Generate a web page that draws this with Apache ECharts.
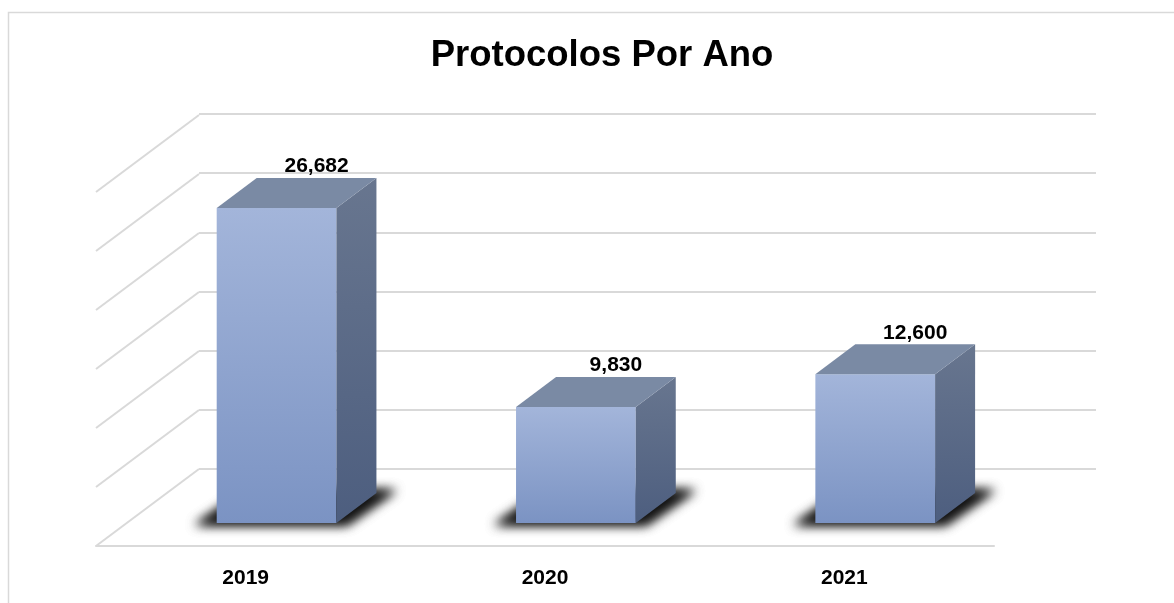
<!DOCTYPE html>
<html>
<head>
<meta charset="utf-8">
<script src="https://cdn.jsdelivr.net/npm/echarts@6/dist/echarts.min.js"></script>
<style>
  html, body { margin: 0; padding: 0; background: #fff; }
  #chart { width: 1174px; height: 603px; }
</style>
</head>
<body>
<div id="chart"></div>
<script>
const years = ['2019', '2020', '2021'];
const protocolos = [26682, 9830, 12600];
const yTicks = [0, 5000, 10000, 15000, 20000, 25000, 30000];

// floor depth (back wall offset) and bar depth, in px
const FLOOR_DX = 103, FLOOR_DY = -77;
const BAR_DX = 40, BAR_DY = -30;
const FONT = '"Liberation Sans", Arial, sans-serif';
const SHIFT = 3000; // shadow shape drawn off-canvas, only its blur is brought back

const chart = echarts.init(document.getElementById('chart'));

const renderWall = (params, api) => {
  const y = api.coord([0, api.value(1)])[1];
  const x0 = params.coordSys.x;
  return {
    type: 'line',
    shape: { x1: x0, y1: y, x2: x0 + FLOOR_DX, y2: y + FLOOR_DY },
    style: { stroke: '#d9d9d9', lineWidth: 2 },
    silent: true
  };
};

const shadow = (fx, fy0, bw) => ({
  type: 'polygon',
  shape: { points: [
    [fx - 22 - SHIFT, fy0 + 2], [fx + bw + 10 - SHIFT, fy0 + 2],
    [fx + bw + 60 - SHIFT, fy0 - 33], [fx + 30 - SHIFT, fy0 - 33]
  ] },
  style: {
    fill: '#000',
    shadowBlur: 11,
    shadowColor: 'rgba(0,0,0,0.75)',
    shadowOffsetX: SHIFT,
    shadowOffsetY: 0
  },
  silent: true
});

const renderBar = (params, api) => {
  const i = api.value(0);
  const v = api.value(1);
  const base = api.coord([i, 0]);
  const top = api.coord([i, v]);
  const bw = api.size([1, 0])[0] * 0.4;
  const ox = FLOOR_DX * 0.3, oy = FLOOR_DY * 0.3;
  const fx = base[0] + ox - bw / 2;
  const fy0 = base[1] + oy;
  const fy1 = top[1] + oy;
  return {
    type: 'group',
    children: [
      shadow(fx, fy0, bw),
      shadow(fx, fy0, bw),
      {
        type: 'rect',
        shape: { x: fx, y: fy1, width: bw, height: fy0 - fy1 },
        style: {
          fill: new echarts.graphic.LinearGradient(0, 0, 0, 1, [
            { offset: 0, color: '#a3b5da' },
            { offset: 1, color: '#7b93c3' }
          ])
        }
      },
      {
        type: 'polygon',
        shape: { points: [[fx + bw, fy1], [fx + bw + BAR_DX, fy1 + BAR_DY], [fx + bw + BAR_DX, fy0 + BAR_DY], [fx + bw, fy0]] },
        style: {
          fill: new echarts.graphic.LinearGradient(0, 0, 0, 1, [
            { offset: 0, color: '#68768f' },
            { offset: 1, color: '#4d5e7f' }
          ])
        }
      },
      {
        type: 'polygon',
        shape: { points: [[fx, fy1], [fx + BAR_DX, fy1 + BAR_DY], [fx + bw + BAR_DX, fy1 + BAR_DY], [fx + bw, fy1]] },
        style: { fill: '#7a8aa4' }
      },
      {
        type: 'text',
        x: fx + bw / 2 + BAR_DX,
        y: fy1 + BAR_DY - 1,
        style: {
          text: v.toLocaleString('en-US'),
          font: 'bold 21px ' + FONT,
          fill: '#000',
          align: 'center',
          verticalAlign: 'bottom'
        }
      }
    ]
  };
};

const option = {
  animation: false,
  backgroundColor: '#fff',
  title: {
    text: 'Protocolos Por Ano',
    left: 597,
    top: 32,
    textAlign: 'center',
    textStyle: { fontFamily: FONT, fontWeight: 'bold', fontSize: 36.5, color: '#000' }
  },
  graphic: [
    {
      type: 'rect',
      shape: { x: 8.5, y: 12.5, width: 1300, height: 800 },
      style: { fill: 'none', stroke: '#d9d9d9', lineWidth: 1.5 },
      silent: true
    }
  ],
  grid: [
    { left: 96, right: 180, top: 192, bottom: 57 },
    { left: 199, right: 78, top: 114, bottom: 134 }
  ],
  xAxis: [
    {
      gridIndex: 0,
      type: 'category',
      data: years,
      axisLine: { lineStyle: { color: '#d9d9d9', width: 2 } },
      axisTick: { show: false },
      axisLabel: { margin: 22, fontFamily: FONT, fontWeight: 'bold', fontSize: 21, color: '#000' }
    },
    { gridIndex: 1, type: 'category', data: years, show: false }
  ],
  yAxis: [
    {
      gridIndex: 0, type: 'value', min: 0, max: 30000, interval: 5000,
      axisLine: { show: false }, axisTick: { show: false }, axisLabel: { show: false },
      splitLine: { show: false }
    },
    {
      gridIndex: 1, type: 'value', min: 0, max: 30000, interval: 5000,
      axisLine: { show: false }, axisTick: { show: false }, axisLabel: { show: false },
      splitLine: { lineStyle: { color: '#d9d9d9', width: 2 } }
    }
  ],
  series: [
    {
      name: 'wall',
      type: 'custom',
      xAxisIndex: 0,
      yAxisIndex: 0,
      silent: true,
      renderItem: renderWall,
      data: yTicks.map(v => [0, v])
    },
    {
      name: 'Protocolos',
      type: 'custom',
      xAxisIndex: 0,
      yAxisIndex: 0,
      renderItem: renderBar,
      data: protocolos.map((v, i) => [i, v])
    }
  ]
};

chart.setOption(option);
</script>
</body>
</html>
